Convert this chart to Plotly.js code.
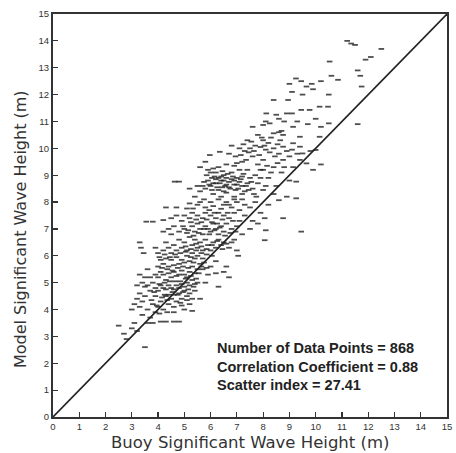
<!DOCTYPE html>
<html>
<head>
<meta charset="utf-8">
<script src="https://cdn.plot.ly/plotly-3.0.1.min.js"></script>
<style>html,body{margin:0;padding:0;background:#fff;}#chart{width:456px;height:453px;}</style>
</head>
<body>
<div id="chart"></div>
<script>
// Buoy (x) / Model (y) significant wave height pairs, in metres
const pointsA = [[2.5,3.4],[2.7,3.1],[2.8,2.9],[3.0,3.3],[3.1,3.5],[3.2,3.2],[3.0,4.0],[3.1,4.2],[3.2,4.4],[3.3,4.1],[3.3,4.6],[3.4,4.3],[3.5,4.5],[3.4,3.8],[3.6,4.0],[3.5,2.6],[3.7,4.7],[3.8,4.2],[3.7,3.7],[3.9,3.9],[3.9,4.5],[3.2,4.9],[3.4,5.0],[3.5,5.2],[3.6,4.9],[3.8,5.0],[3.9,4.8],[3.3,5.3],[3.6,5.5],[3.9,5.3],[3.6,3.5],[3.8,3.5],[4.1,3.55],[4.3,3.55],[4.6,3.55],[4.8,3.55]];
const pointsB = [[4.0,4.1],[4.1,4.3],[4.2,4.0],[4.3,4.5],[4.4,4.2],[4.5,4.4],[4.6,4.1],[4.7,4.3],[4.8,4.6],[4.9,4.4],[5.0,4.7],[5.1,4.5],[5.0,4.0],[5.2,4.2],[5.3,3.95],[4.0,4.7],[4.1,4.9],[4.2,4.8],[4.3,4.75],[4.4,4.9],[4.5,4.8],[4.6,4.75],[4.7,4.9],[4.8,4.8],[4.9,4.95],[5.0,4.85],[5.1,5.0],[5.2,4.9],[5.3,5.1],[5.4,4.95],[4.0,5.2],[4.1,5.4],[4.2,5.3],[4.3,5.1],[4.4,5.35],[4.5,5.2],[4.6,5.4],[4.7,5.25],[4.8,5.3],[4.9,5.45],[5.0,5.3],[5.1,5.2],[5.2,5.4],[5.3,5.6],[5.4,5.35],[5.5,5.5],[4.0,5.6],[4.2,5.7],[4.4,5.6],[4.6,5.65],[4.8,5.7],[5.0,5.75],[5.2,5.8],[5.4,5.9],[5.6,5.7],[4.1,5.85],[4.3,5.9],[4.5,5.85],[4.7,5.95],[4.9,5.85],[5.1,6.0],[5.3,6.1],[5.5,6.0],[5.7,5.9],[5.6,4.4],[5.8,5.0],[5.9,5.3],[5.7,5.5],[6.0,5.6],[6.3,4.85],[6.2,5.35],[6.5,5.4],[6.7,5.2],[6.6,5.6],[5.2,4.6],[5.4,4.7],[5.5,5.0],[4.6,4.55],[4.85,4.25],[4.25,4.55]];
const pointsC = [[3.3,6.5],[3.35,6.3],[3.45,6.1],[3.9,6.3],[4.0,6.1],[4.2,6.2],[4.3,6.5],[4.4,6.3],[4.5,6.1],[4.6,6.4],[4.7,6.2],[4.8,6.6],[4.9,6.3],[5.0,6.5],[5.1,6.2],[5.2,6.7],[5.3,6.4],[5.4,6.6],[5.5,6.3],[5.6,6.5],[5.7,6.2],[5.8,6.6],[5.9,6.4],[6.0,6.2],[6.1,6.5],[6.2,6.3],[6.3,6.6],[6.4,6.4],[6.5,6.5],[6.7,6.3],[6.9,6.6],[7.05,6.0],[7.0,6.2],[4.2,6.9],[4.4,7.0],[4.5,6.8],[4.6,7.1],[4.8,6.9],[5.0,7.0],[5.1,6.85],[5.3,7.1],[5.4,6.9],[5.5,7.2],[5.6,7.0],[5.7,6.8],[5.8,7.1],[5.9,7.0],[6.0,6.9],[6.1,7.2],[6.2,7.0],[6.3,6.8],[6.4,7.1],[6.5,6.9],[6.6,7.2],[6.8,7.0],[7.0,7.1],[3.55,7.27],[3.8,7.27],[4.2,7.33],[4.5,7.4],[4.7,7.5],[4.9,7.3],[5.0,7.5],[5.2,7.4],[5.3,7.6],[5.5,7.5],[5.7,7.4],[5.8,7.6],[6.0,7.5],[6.2,7.4],[6.3,7.6],[6.5,7.5],[6.7,7.4],[6.9,7.6],[7.1,7.3],[7.3,7.5],[4.3,7.8],[4.7,7.8],[5.1,7.76],[5.33,7.76],[5.5,7.9],[5.6,8.0],[5.8,7.8],[6.0,8.0],[6.1,7.85],[6.3,8.1],[6.5,7.9],[6.6,8.0],[6.8,7.8],[7.0,8.0],[7.1,7.7],[7.3,7.9],[7.5,7.8],[7.7,8.0]];
const pointsD = [[5.6,8.4],[5.7,8.6],[5.8,8.5],[5.9,8.8],[6.0,8.6],[6.05,8.9],[6.1,8.7],[6.2,8.85],[6.25,8.55],[6.3,8.9],[6.35,8.7],[6.4,8.95],[6.5,8.8],[6.55,8.6],[6.6,8.9],[6.7,8.75],[6.75,8.5],[6.8,8.85],[6.9,8.65],[7.0,8.9],[7.05,8.5],[7.1,8.75],[7.2,8.6],[7.3,8.4],[7.4,8.7],[5.9,9.2],[6.2,9.1],[6.5,9.0],[6.8,9.1],[7.1,9.2],[6.1,8.3],[6.4,8.2],[6.6,8.35],[6.9,8.2],[7.2,8.3],[5.6,9.3],[5.8,9.5],[6.0,9.1],[6.3,9.3],[6.6,9.4],[6.9,9.35],[7.2,9.5],[7.4,9.2],[7.5,8.9],[7.6,8.5],[7.8,8.7],[7.7,9.0],[8.0,8.45],[8.4,8.3],[7.74,8.2],[8.2,8.9],[8.0,9.2],[8.3,9.1],[8.5,8.6],[8.6,8.07],[9.0,8.8],[9.26,8.76],[8.9,8.2],[9.26,8.14],[8.76,7.4],[9.45,6.9],[8.06,7.4],[8.1,6.95],[8.06,6.58],[7.6,7.3],[7.9,7.6],[8.2,7.9],[7.5,7.0],[7.2,6.8],[7.8,7.2],[4.63,8.76],[4.8,8.76],[5.2,8.5],[5.5,8.6]];
const pointsE = [[6.35,9.87],[5.97,9.75],[6.7,9.8],[6.95,9.7],[7.35,9.57],[7.6,9.7],[8.0,9.57],[7.1,10.0],[7.5,10.0],[7.9,10.05],[8.1,9.95],[8.4,10.0],[7.3,9.9],[7.7,10.1],[8.2,10.2],[8.6,9.8],[8.76,9.57],[9.0,9.7],[9.14,9.3],[9.4,9.57],[9.65,9.44],[8.76,10.06],[9.14,10.19],[9.4,10.06],[9.5,9.81],[10.0,9.94],[8.4,9.3],[8.7,9.1],[7.8,9.4],[7.0,9.45],[6.8,10.1],[7.4,10.3],[8.0,10.3],[9.8,9.9],[9.9,9.2],[10.2,9.4]];
const pointsF = [[7.6,10.8],[8.0,10.87],[8.25,10.93],[8.4,10.56],[8.76,10.5],[9.14,10.8],[9.4,10.43],[10.15,10.43],[10.2,10.8],[10.5,10.93],[8.6,10.6],[8.7,10.65],[7.8,10.5],[8.1,11.0],[8.12,11.3],[8.5,11.25],[8.9,11.3],[9.1,11.3],[9.45,11.43],[9.77,11.43],[10.15,11.55],[10.47,11.55],[8.4,11.8],[8.95,11.8],[8.6,11.1],[9.1,12.1],[9.5,12.0],[9.9,12.2],[10.5,12.0],[9.0,12.4],[9.25,12.6],[9.45,12.5],[9.65,12.3],[9.85,12.4],[10.2,12.5],[10.6,12.7],[10.85,12.55],[10.53,13.23],[8.8,11.0],[9.3,11.0],[9.7,10.9],[10.0,11.1]];
const pointsG = [[11.2,14.0],[11.35,13.9],[11.5,13.85],[12.5,13.7],[12.1,13.4],[11.9,13.3],[11.6,12.9],[11.7,12.7],[11.75,12.3],[11.6,10.9]];
const pointsH = [[4.15,4.45],[4.35,4.35],[4.55,4.65],[4.75,4.55],[4.95,4.65],[5.15,4.75],[5.35,4.85],[5.05,5.15],[4.85,5.05],[4.65,5.05],[4.45,5.05],[4.25,5.0],[4.05,4.95],[5.25,5.25],[5.45,5.15],[5.55,5.35],[5.65,5.6],[5.75,5.75],[5.85,5.55],[4.15,5.55],[4.35,5.5],[4.55,5.45],[4.75,5.55],[4.95,5.6],[5.15,5.55],[5.35,5.75],[4.05,5.95],[4.25,6.05],[4.45,5.95],[4.65,6.05],[4.85,6.1],[5.05,6.15],[5.25,5.95],[5.45,6.2],[5.65,6.1],[5.85,6.05],[6.05,6.0],[6.2,5.8],[3.75,4.35],[3.85,4.65],[3.95,4.15],[4.05,3.85],[4.35,3.9],[4.6,3.9],[4.9,4.15],[5.1,4.35],[5.3,4.4],[4.4,4.55],[3.5,4.85],[3.7,5.2]];
const pointsI = [[5.05,6.35],[5.25,6.25],[5.45,6.45],[5.65,6.35],[5.85,6.25],[6.05,6.4],[6.25,6.55],[6.45,6.25],[6.6,6.45],[6.8,6.5],[5.15,6.95],[5.35,6.75],[5.55,6.85],[5.75,7.0],[5.95,6.8],[6.15,6.95],[6.35,7.05],[6.55,6.75],[6.75,6.85],[6.95,6.9],[5.45,7.35],[5.65,7.25],[5.85,7.35],[6.05,7.25],[6.25,7.2],[6.45,7.35],[6.65,7.6],[6.85,7.3],[5.25,7.25],[4.95,7.1],[5.95,7.7],[6.15,7.6],[6.4,7.75],[6.7,7.9],[6.9,8.1],[7.2,8.1],[5.75,8.1],[5.4,8.2],[5.2,7.95]];
const pointsJ = [[5.75,8.75],[5.95,8.65],[6.15,8.95],[6.3,8.45],[6.45,8.55],[6.6,8.65],[6.65,9.05],[6.85,8.95],[6.95,8.45],[7.15,8.85],[7.25,9.05],[7.35,8.6],[6.05,8.45],[6.2,8.7],[6.4,8.8],[6.5,8.4],[6.7,8.55],[6.9,8.8],[7.0,8.65],[7.2,8.95],[6.45,9.15],[6.1,9.25],[5.85,9.0],[7.45,8.45],[7.55,8.75],[7.65,8.3],[7.9,8.9],[8.1,8.6]];
const pointsK = [[7.15,9.75],[7.45,9.85],[7.65,9.9],[7.85,9.75],[8.05,10.1],[8.25,9.85],[8.45,9.7],[8.55,10.15],[7.25,10.15],[7.55,10.25],[7.95,10.4],[8.3,10.4],[8.65,10.3],[8.9,9.9],[9.1,9.95],[9.3,9.8],[7.9,9.2],[8.15,9.35],[8.55,9.45],[8.8,9.3]];

const tickVals = [0,1,2,3,4,5,6,7,8,9,10,11,12,13,14,15];
const diagonal = [0, 15];
const statLines = ["Number of Data Points = 868", "Correlation Coefficient = 0.88", "Scatter index = 27.41"];
const xTitle = 'Buoy Significant Wave Height (m)';
const yTitle = 'Model Significant Wave Height (m)';

const all = [].concat(pointsA, pointsB, pointsC, pointsD, pointsE, pointsF, pointsG, pointsH, pointsI, pointsJ, pointsK);
const buoy = all.map(p => p[0]);
const model = all.map(p => p[1]);

const traces = [
  {x: buoy, y: model, type: 'scatter', mode: 'markers',
   marker: {symbol: 'line-ew', size: 4, color: '#222', opacity: 0.8, line: {width: 1.8, color: '#222'}},
   hoverinfo: 'x+y', showlegend: false},
  {x: diagonal, y: diagonal, type: 'scatter', mode: 'lines',
   line: {color: '#222', width: 1.6}, hoverinfo: 'skip', showlegend: false}
];

const axisCommon = {
  range: [0, 15], tickvals: tickVals, ticktext: tickVals.map(String),
  ticks: 'inside', ticklen: 5, tickwidth: 1.2, tickcolor: '#333',
  showline: true, linecolor: '#333', linewidth: 2, mirror: true,
  showgrid: false, zeroline: false,
  tickfont: {family: 'Liberation Sans, Arial, sans-serif', size: 9.5, color: '#333'}
};

const layout = {
  width: 456, height: 453,
  margin: {l: 53, r: 9, t: 14, b: 36},
  paper_bgcolor: '#fff', plot_bgcolor: '#fff',
  xaxis: Object.assign({}, axisCommon),
  yaxis: Object.assign({}, axisCommon),
  annotations: statLines.map((t, i) => ({
    text: '<b>' + t + '</b>', xref: 'paper', yref: 'paper',
    x: 0.41, y: 0.171 - i * 0.046, xanchor: 'left', yanchor: 'middle',
    showarrow: false, font: {family: 'Liberation Sans, Arial, sans-serif', size: 14.5, color: '#222'}
  })).concat([{
    text: yTitle, xref: 'paper', yref: 'paper',
    x: -0.084, y: 0.466, xanchor: 'center', yanchor: 'middle', textangle: -90,
    showarrow: false, font: {family: 'DejaVu Sans, sans-serif', size: 16, color: '#333'}
  }, {
    text: xTitle, xref: 'paper', yref: 'paper',
    x: 0.5, y: -0.064, xanchor: 'center', yanchor: 'middle',
    showarrow: false, font: {family: 'DejaVu Sans, sans-serif', size: 16.5, color: '#333'}
  }])
};

Plotly.newPlot('chart', traces, layout, {staticPlot: true, displayModeBar: false});
</script>
</body>
</html>
